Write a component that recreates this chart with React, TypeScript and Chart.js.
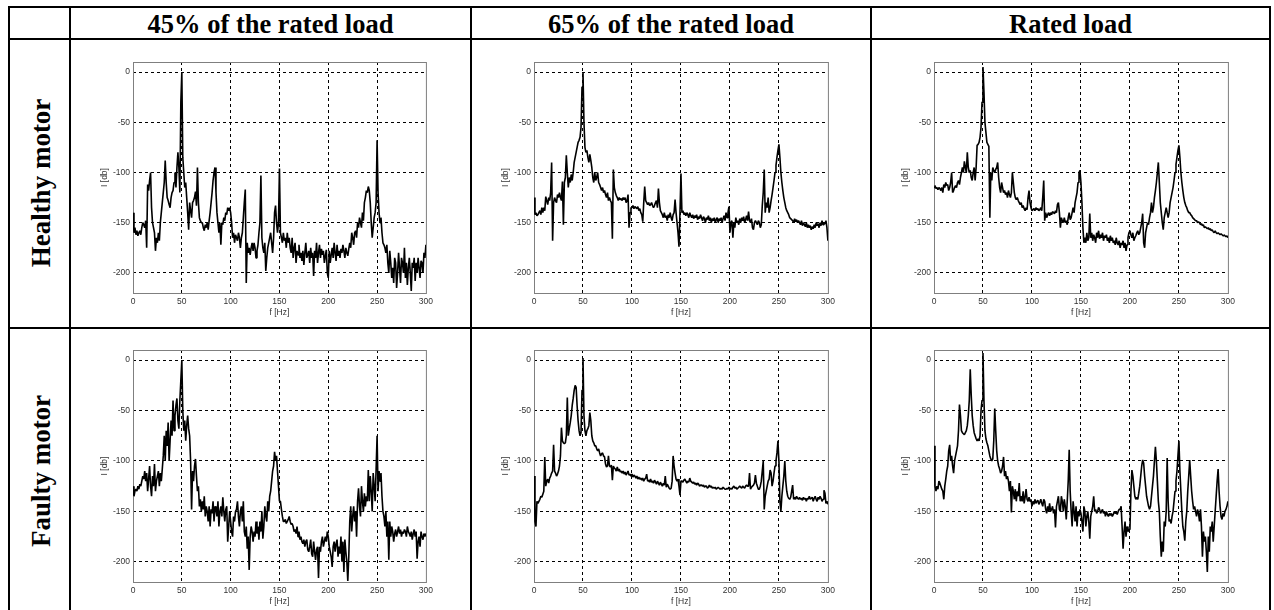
import React, { useEffect, useRef } from "react";
import { Chart, registerables } from "chart.js";

Chart.register(...registerables);

// ---------------- data ----------------
const COLUMN_TITLES = ["45% of the rated load", "65% of the rated load", "Rated load"];
const ROW_TITLES = ["Healthy motor", "Faulty motor"];
const X_TICKS = [0, 50, 100, 150, 200, 250, 300];
const Y_TICKS = [-200, -150, -100, -50, 0];
const X_MIN = 0;
const X_MAX = 300;
const Y_MIN = -220;
const Y_MAX = 10;
const F_STEP = 1; // Hz between samples, first sample at 0 Hz
const X_LABEL = "f [Hz]";
const Y_LABEL = "I [db]";

// Healthy motor, 45% of rated load
const HEALTHY_45 = [
  -140, -160, -155, -162, -158, -163, -160, -158, -162, -155,
  -150, -152, -155, -148, -175, -112, -118, -108, -100, -135,
  -150, -155, -160, -178, -165, -170, -160, -168, -150, -140,
  -130, -120, -110, -88, -110, -125, -128, -132, -135, -125,
  -120, -118, -110, -100, -115, -95, -80, -95, -120, -30,
  0, -85, -100, -115, -110, -125, -140, -157, -130, -138,
  -145, -130, -128, -125, -119, -133, -95, -130, -145, -148,
  -150, -150, -155, -158, -152, -155, -150, -157, -148, -140,
  -130, -120, -108, -100, -95, -120, -140, -150, -160, -150,
  -172, -150, -152, -145, -148, -140, -142, -135, -138, -135,
  -140, -150, -165, -160, -170, -162, -165, -168, -160, -165,
  -175, -165, -160, -145, -130, -117, -210, -170, -180, -175,
  -182, -175, -170, -178, -170, -175, -185, -178, -172, -160,
  -150, -103, -165, -175, -180, -170, -198, -185, -175, -170,
  -165, -160, -170, -180, -165, -140, -133, -150, -160, -150,
  -96, -160, -165, -170, -160, -168, -165, -175, -160, -170,
  -165, -175, -180, -165, -185, -175, -170, -190, -178, -182,
  -172, -185, -180, -188, -178, -192, -180, -170, -185, -182,
  -178, -190, -175, -185, -180, -203, -178, -185, -170, -190,
  -180, -172, -185, -176, -182, -178, -190, -183, -177, -200,
  -205, -178, -190, -182, -175, -185, -170, -180, -188, -172,
  -183, -178, -185, -176, -180, -172, -178, -185, -175, -180,
  -183, -176, -170, -175, -160, -165, -172, -160, -158, -165,
  -150, -155, -145, -150, -155, -140, -148, -130, -125, -118,
  -120, -114, -118, -130, -150, -165, -155, -145, -140, -130,
  -68, -120, -140, -150, -145, -160, -170, -172, -175, -180,
  -172, -190, -200, -178, -190, -205, -195, -210, -185, -190,
  -215, -200, -180, -195, -210, -185, -190, -200, -175, -205,
  -190, -212, -195, -185, -200, -218, -190, -195, -185, -208,
  -190, -200, -185, -195, -205, -188, -190, -200, -180, -185,
  -172,
];

// Healthy motor, 65% of rated load
const HEALTHY_65 = [
  -125, -142, -140, -143, -142, -140, -138, -142, -135, -140,
  -135, -138, -124, -128, -132, -125, -128, -120, -90, -168,
  -130, -125, -128, -130, -122, -125, -120, -125, -128, -109,
  -152, -110, -105, -83, -100, -115, -105, -110, -102, -108,
  -100, -90, -85, -80, -75, -70, -68, -65, -55, -15,
  0, -50, -75, -80, -78, -85, -90, -82, -88, -95,
  -105, -110, -100, -108, -105, -100, -110, -112, -115, -118,
  -115, -120, -118, -122, -125, -120, -128, -125, -128, -130,
  -166, -97, -115, -120, -123, -125, -128, -125, -127, -126,
  -128, -125, -127, -125, -130, -128, -122, -155, -140, -135,
  -135, -133, -136, -134, -135, -136, -134, -138, -136, -140,
  -142, -149, -130, -114, -128, -130, -132, -130, -133, -132,
  -130, -133, -135, -133, -130, -128, -135, -116, -130, -138,
  -140, -142, -145, -140, -145, -143, -148, -142, -145, -140,
  -145, -148, -142, -140, -127, -140, -150, -160, -174, -140,
  -101, -140, -138, -142, -140, -143, -140, -142, -145, -140,
  -143, -145, -142, -146, -143, -145, -142, -147, -144, -146,
  -142, -145, -148, -144, -146, -150, -145, -147, -143, -148,
  -145, -150, -146, -148, -145, -150, -147, -145, -150, -146,
  -148, -145, -150, -146, -143, -148, -140, -145, -140, -134,
  -160, -150, -148, -165, -150, -155, -145, -150, -148, -152,
  -146, -150, -145, -148, -144, -150, -147, -143, -148, -139,
  -148, -150, -146, -155, -157, -150, -148, -150, -152, -148,
  -150, -155, -152, -133, -120, -97, -140, -130, -135, -125,
  -140, -135, -128, -122, -115, -108, -100, -93, -85, -78,
  -72, -85, -100, -110, -118, -125, -130, -135, -138, -140,
  -142, -145, -146, -147, -148, -150, -146, -149, -147, -150,
  -148, -150, -152, -148, -153, -150, -152, -154, -150, -155,
  -152, -155, -153, -157, -154, -156, -152, -155, -150, -153,
  -151, -155, -150, -153, -148, -152, -150, -151, -148, -155,
  -168,
];

// Healthy motor, rated load
const HEALTHY_100 = [
  -115, -113, -116, -115, -117, -115, -116, -118, -115, -120,
  -112, -115, -110, -113, -112, -118, -115, -110, -100, -120,
  -118, -115, -113, -115, -110, -108, -112, -105, -100, -95,
  -100, -89, -95, -100, -80, -95, -100, -98, -105, -108,
  -100, -95, -108, -95, -73, -72, -70, -65, -55, -30,
  5, -20, -50, -60, -70, -72, -74, -145, -100, -108,
  -95, -98, -100, -97, -95, -90, -105, -115, -120, -110,
  -115, -120, -118, -122, -120, -125, -118, -122, -125, -120,
  -100, -110, -120, -125, -127, -125, -128, -130, -132, -130,
  -135, -133, -136, -138, -135, -137, -125, -118, -130, -135,
  -138, -137, -136, -138, -135, -137, -136, -138, -137, -135,
  -138, -125, -108, -148, -140, -145, -142, -140, -143, -140,
  -142, -139, -140, -141, -138, -140, -132, -130, -140, -155,
  -145, -148, -150, -145, -150, -148, -152, -145, -140, -147,
  -145, -140, -135, -140, -130, -125, -120, -110, -100, -98,
  -110, -130, -155, -170, -165, -170, -160, -168, -165, -141,
  -165, -160, -168, -162, -165, -170, -160, -165, -158, -166,
  -162, -165, -160, -168, -163, -165, -162, -168, -165, -170,
  -163, -168, -165, -170, -168, -172, -165, -170, -172, -168,
  -175, -170, -172, -168, -175, -170, -178, -172, -165, -160,
  -158, -162, -165, -160, -168, -165, -163, -160, -158, -162,
  -160, -155, -150, -141, -170, -175, -160, -155, -150, -152,
  -145, -140, -130, -140, -135, -125, -118, -110, -100, -90,
  -110, -130, -140, -150, -157, -145, -140, -135, -140, -145,
  -140, -130, -125, -120, -115, -108, -100, -92, -85, -78,
  -73, -85, -100, -110, -118, -125, -130, -133, -135, -138,
  -140, -140, -142, -143, -145, -146, -147, -148, -148, -150,
  -149, -150, -152, -151, -153, -152, -155, -154, -155, -156,
  -155, -157, -156, -158, -157, -159, -160, -158, -160, -161,
  -160, -161, -162, -161, -162, -163, -162, -163, -164, -163,
  -165,
];

// Faulty motor, 45% of rated load
const FAULTY_45 = [
  -125, -135, -130, -128, -130, -125, -128, -123, -125, -120,
  -115, -118, -110, -120, -112, -130, -118, -105, -125, -135,
  -115, -125, -103, -130, -120, -115, -110, -125, -112, -120,
  -108, -95, -75, -100, -70, -85, -62, -100, -80, -60,
  -75, -40, -70, -55, -45, -38, -60, -68, -40, -20,
  0, -50, -70, -60, -80, -65, -55, -68, -75, -100,
  -148, -110, -120, -105, -98, -115, -130, -125, -145, -138,
  -150, -140, -148, -135, -155, -145, -150, -160, -145, -165,
  -148, -152, -140, -160, -145, -148, -155, -140, -165, -150,
  -145, -155, -136, -150, -160, -148, -145, -180, -165, -150,
  -160, -170, -175, -155, -160, -150, -148, -140, -155, -165,
  -150, -145, -160, -140, -170, -175, -165, -187, -175, -208,
  -175, -165, -170, -180, -170, -175, -160, -172, -165, -178,
  -160, -170, -150, -177, -165, -145, -155, -160, -140, -150,
  -135, -130, -120, -110, -105, -91, -100, -95, -110, -125,
  -140, -140, -148, -155, -160, -160, -158, -162, -160, -158,
  -155, -160, -163, -162, -165, -170, -168, -172, -165, -175,
  -170, -178, -175, -180, -182, -178, -185, -180, -178, -188,
  -190, -185, -178, -192, -195, -180, -190, -198, -188, -185,
  -216, -185, -190, -180, -175, -185, -180, -175, -180, -170,
  -175, -185, -190, -195, -205, -185, -180, -190, -182, -178,
  -195, -185, -192, -175, -200, -180, -210, -178, -190, -200,
  -219, -195, -160, -145, -170, -155, -145, -160, -150, -175,
  -140, -127, -145, -155, -125, -140, -150, -132, -145, -135,
  -140, -109, -140, -115, -130, -150, -112, -125, -140, -108,
  -75, -130, -110, -120, -112, -135, -150, -155, -165, -150,
  -175, -160, -198, -160, -175, -165, -170, -180, -172, -168,
  -175, -170, -165, -172, -168, -175, -170, -172, -168, -170,
  -175, -165, -170, -172, -175, -170, -178, -172, -168, -175,
  -170, -197, -180, -175, -185, -170, -175, -178, -172, -175,
  -172,
];

// Faulty motor, 65% of rated load
const FAULTY_65 = [
  -115, -160, -165, -140, -142, -140, -138, -135, -136, -133,
  -130, -96, -125, -120, -118, -122, -117, -115, -112, -110,
  -84, -110, -112, -115, -113, -110, -105, -95, -67, -80,
  -82, -83, -82, -75, -37, -75, -68, -62, -55, -45,
  -38, -30, -25, -27, -45, -60, -70, -75, -72, -30,
  2, -55, -70, -75, -70, -68, -65, -52, -60, -75,
  -80, -82, -85, -85, -88, -90, -88, -92, -95, -93,
  -92, -95, -96, -103, -106, -105, -95, -105, -106, -104,
  -119, -105, -107, -108, -110, -106, -110, -108, -111, -110,
  -112, -110, -113, -111, -114, -112, -110, -114, -113, -115,
  -113, -116, -114, -115, -117, -115, -118, -116, -118, -117,
  -119, -117, -120, -118, -117, -113, -120, -119, -121, -118,
  -121, -120, -122, -119, -121, -123, -120, -122, -124, -121,
  -123, -125, -122, -124, -115, -126, -123, -125, -127, -128,
  -127, -120, -95, -105, -112, -118, -120, -118, -125, -134,
  -120, -120, -121, -119, -118, -120, -122, -120, -121, -117,
  -120, -121, -122, -121, -123, -122, -124, -122, -123, -125,
  -124, -124, -125, -124, -126, -125, -125, -127, -126, -124,
  -126, -125, -127, -126, -127, -126, -128, -127, -126, -127,
  -128, -127, -128, -126, -127, -128, -128, -127, -128, -126,
  -128, -127, -128, -126, -125, -127, -126, -128, -127, -126,
  -125, -126, -127, -125, -126, -127, -125, -124, -125, -125,
  -112, -128, -126, -125, -124, -122, -114, -122, -125, -128,
  -128, -125, -120, -110, -100, -148, -135, -130, -125, -120,
  -118, -109, -112, -125, -120, -112, -105, -100, -92, -80,
  -100, -140, -150, -135, -125, -115, -100, -120, -130, -135,
  -137, -138, -136, -130, -124, -138, -136, -138, -135, -137,
  -138, -136, -138, -137, -139, -136, -138, -137, -140, -137,
  -138, -135, -138, -137, -136, -140, -137, -135, -138, -140,
  -136, -138, -135, -137, -140, -138, -129, -132, -142, -140,
  -143,
];

// Faulty motor, rated load
const FAULTY_100 = [
  -85, -125, -130, -125, -128, -120, -122, -125, -128, -130,
  -138, -125, -118, -110, -105, -90, -84, -100, -95, -105,
  -112, -100, -95, -90, -85, -70, -44, -55, -70, -72,
  -73, -74, -72, -70, -65, -55, -40, -9, -35, -55,
  -65, -72, -75, -78, -80, -78, -80, -75, -50, -40,
  7, -40, -70, -78, -82, -85, -90, -95, -98, -100,
  -98, -80, -48, -70, -90, -100, -105, -108, -112, -110,
  -105, -96, -115, -110, -118, -115, -120, -130, -120, -151,
  -125, -130, -138, -128, -140, -130, -135, -122, -140, -135,
  -140, -130, -142, -136, -128, -138, -140, -136, -140, -138,
  -145, -140, -143, -138, -142, -140, -139, -143, -141, -138,
  -142, -145, -138, -140, -148, -152, -145, -150, -142, -150,
  -148, -145, -152, -148, -166, -145, -140, -135, -148, -150,
  -135, -140, -150, -138, -145, -158, -140, -120, -89, -130,
  -150, -165, -140, -150, -160, -145, -165, -150, -155, -148,
  -152, -160, -170, -145, -150, -165, -155, -150, -160, -177,
  -155, -150, -145, -135, -150, -148, -152, -150, -146, -148,
  -152, -150, -148, -152, -150, -155, -150, -153, -155, -152,
  -154, -152, -155, -153, -150, -152, -151, -153, -150, -148,
  -148, -145, -165, -187, -170, -160, -175, -165, -170, -168,
  -168, -130, -109, -115, -125, -135, -138, -136, -138, -132,
  -125, -115, -105, -99, -102, -115, -125, -135, -140, -145,
  -148, -145, -135, -125, -115, -100, -86, -100, -120, -140,
  -150, -175, -195, -180, -190, -160, -165, -150, -97, -140,
  -160, -158, -162, -155, -150, -140, -130, -120, -110, -95,
  -80, -110, -130, -150, -165, -170, -179, -160, -150, -130,
  -115, -99, -115, -130, -140, -148, -145, -150, -155, -148,
  -152, -160, -148, -165, -195, -170, -180, -175, -190, -210,
  -175, -190, -165, -170, -160, -180, -165, -150, -135, -120,
  -108, -130, -145, -155, -158, -152, -155, -150, -148, -145,
  -140,
];

const SERIES = [
  [HEALTHY_45, HEALTHY_65, HEALTHY_100],
  [FAULTY_45, FAULTY_65, FAULTY_100],
];

// ---------------- layout ----------------
const PLOT_LEFT = [133, 534, 934];
const PLOT_RIGHT = [427, 829, 1229];
const PLOT_TOP = [62, 350];
const PLOT_BOTTOM = [293, 582];
const Y_AXIS_W = 60;
const X_AXIS_H = 28;
const PAD_TOP = 10;
const PAD_RIGHT = 10;

const TICK_FONT = { family: "'Liberation Sans', Arial, sans-serif", size: 8.5 };
const TICK_COLOR = "#333333";
const BOX_COLOR = "#7f7f7f";

const boxPlugin = {
  id: "matlabBox",
  beforeDatasetsDraw(chart: any) {
    const { ctx, chartArea: a } = chart;
    ctx.save();
    ctx.strokeStyle = BOX_COLOR;
    ctx.lineWidth = 1;
    ctx.strokeRect(a.left + 0.5, a.top + 0.5, a.right - a.left, a.bottom - a.top);
    ctx.restore();
  },
};

function Panel({ values, left, top, width, height }: { values: number[]; left: number; top: number; width: number; height: number }) {
  const ref = useRef<HTMLCanvasElement | null>(null);
  useEffect(() => {
    if (!ref.current) return;
    const chart = new Chart(ref.current, {
      type: "line",
      data: {
        datasets: [
          {
            data: values.map((v, i) => ({ x: X_MIN + i * F_STEP, y: v })),
            borderColor: "#000000",
            borderWidth: 1.6,
            borderJoinStyle: "bevel",
            pointRadius: 0,
            tension: 0,
            fill: false,
          },
        ],
      },
      options: {
        responsive: false,
        animation: false,
        events: [],
        parsing: false,
        normalized: true,
        layout: { padding: { left: 0, right: PAD_RIGHT, top: PAD_TOP, bottom: 0 } },
        plugins: { legend: { display: false }, tooltip: { enabled: false } },
        scales: {
          x: {
            type: "linear",
            min: X_MIN,
            max: X_MAX,
            afterBuildTicks: (s: any) => {
              s.ticks = X_TICKS.map((v) => ({ value: v }));
            },
            afterFit: (s: any) => {
              s.height = X_AXIS_H;
            },
            ticks: {
              autoSkip: false,
              maxRotation: 0,
              padding: 4,
              font: TICK_FONT,
              color: TICK_COLOR,
              callback: (v: any) => String(v),
            },
            grid: {
              drawTicks: false,
              lineWidth: 1,
              color: (c: any) =>
                c.tick && (c.tick.value === X_MIN || c.tick.value === X_MAX) ? "rgba(0,0,0,0)" : "#000000",
            },
            border: { display: false, dash: [3, 3] },
            title: { display: true, text: X_LABEL, font: TICK_FONT, color: TICK_COLOR, padding: { top: 0, bottom: 3 } },
          },
          y: {
            type: "linear",
            min: Y_MIN,
            max: Y_MAX,
            afterBuildTicks: (s: any) => {
              s.ticks = Y_TICKS.map((v) => ({ value: v }));
            },
            afterFit: (s: any) => {
              s.width = Y_AXIS_W;
            },
            ticks: {
              autoSkip: false,
              padding: 3,
              font: TICK_FONT,
              color: TICK_COLOR,
              callback: (v: any) => String(v),
            },
            grid: { drawTicks: false, lineWidth: 1, color: "#000000" },
            border: { display: false, dash: [3, 3] },
            title: { display: true, text: Y_LABEL, font: TICK_FONT, color: TICK_COLOR, padding: { top: 27, bottom: 0 } },
          },
        },
      },
      plugins: [boxPlugin],
    } as any);
    return () => chart.destroy();
  }, [values]);
  return (
    <canvas
      ref={ref}
      width={width}
      height={height}
      style={{ position: "absolute", left, top, width, height, display: "block" }}
    />
  );
}

const LINE = "#000000";
const V_LINES = [8, 69, 470, 870, 1269];
const H_LINES = [6, 38, 327];
const COL_BOUNDS = [
  [71, 470],
  [472, 870],
  [872, 1269],
];
const ROW_CENTERS = [183, 471];

export default function App() {
  const serif = "'Liberation Serif', 'Times New Roman', serif";
  return (
    <div style={{ position: "absolute", left: 0, top: 0, width: 1274, height: 610, overflow: "hidden", background: "#fff" }}>
      {H_LINES.map((y, i) => (
        <div key={"h" + i} style={{ position: "absolute", left: 8, top: y, width: 1263, height: 2, background: LINE }} />
      ))}
      {V_LINES.map((x, i) => (
        <div key={"v" + i} style={{ position: "absolute", left: x, top: 6, width: 2, height: 604, background: LINE }} />
      ))}
      {COLUMN_TITLES.map((t, i) => (
        <div
          key={"c" + i}
          style={{
            position: "absolute",
            left: COL_BOUNDS[i][0],
            width: COL_BOUNDS[i][1] - COL_BOUNDS[i][0],
            top: 9,
            height: 30,
            display: "flex",
            alignItems: "center",
            justifyContent: "center",
            fontFamily: serif,
            fontWeight: "bold",
            fontSize: 26.5,
            whiteSpace: "nowrap",
            color: "#000",
          }}
        >
          {t}
        </div>
      ))}
      {ROW_TITLES.map((t, i) => (
        <div
          key={"r" + i}
          style={{
            position: "absolute",
            left: 41,
            top: ROW_CENTERS[i],
            transform: "translate(-50%, -50%) rotate(-90deg)",
            fontFamily: serif,
            fontWeight: "bold",
            fontSize: 27,
            whiteSpace: "nowrap",
            color: "#000",
          }}
        >
          {t}
        </div>
      ))}
      {SERIES.map((row, r) =>
        row.map((vals, c) => (
          <Panel
            key={r + "-" + c}
            values={vals}
            left={PLOT_LEFT[c] - Y_AXIS_W}
            top={PLOT_TOP[r] - PAD_TOP}
            width={PLOT_RIGHT[c] - PLOT_LEFT[c] + Y_AXIS_W + PAD_RIGHT}
            height={PLOT_BOTTOM[r] - PLOT_TOP[r] + PAD_TOP + X_AXIS_H}
          />
        ))
      )}
    </div>
  );
}
